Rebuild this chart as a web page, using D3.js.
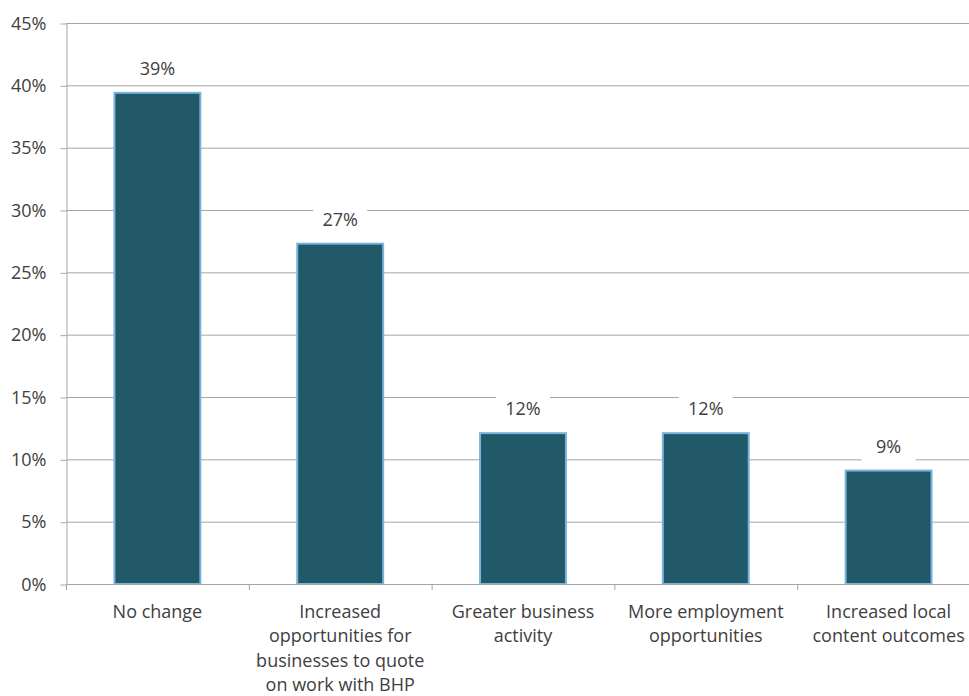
<!DOCTYPE html>
<html><head><meta charset="utf-8">
<script src="https://cdn.jsdelivr.net/npm/d3@7"></script>
<style>
body{margin:0;background:#fff;}
svg text{font-family:"Open Sans",sans-serif;fill:#404040;}
</style></head>
<body><svg id="c" width="969" height="696"></svg>
<script>
const categories = [
  ["No change"],
  ["Increased","opportunities for","businesses to quote","on work with BHP"],
  ["Greater business","activity"],
  ["More employment","opportunities"],
  ["Increased local","content outcomes"]
];
const values = [39.4, 27.3, 12.1, 12.1, 9.1];
const valueLabels = ["39%","27%","12%","12%","9%"];
const yTicks = [0,5,10,15,20,25,30,35,40,45];

const FS = 18;
const svg = d3.select("#c");
const x0 = 66, x1 = 980, yBottom = 584, yTop = 23;
const x = d3.scaleBand().domain(d3.range(categories.length)).range([x0, x1]).paddingInner(0.53).paddingOuter(0.265);
const y = d3.scaleLinear().domain([0,45]).range([yBottom, yTop]);

// gridlines
svg.append("g").selectAll("line").data(yTicks.filter(d=>d>0)).join("line")
  .attr("x1", x0).attr("x2", 969).attr("y1", d=>y(d)+0.5).attr("y2", d=>y(d)+0.5)
  .attr("stroke", "#a6a6a6").attr("stroke-width", 1);

// y axis
const ya = svg.append("g").attr("transform", `translate(${x0+0.5},0)`)
  .call(d3.axisLeft(y).tickValues(yTicks).tickFormat(d=>d+"%").tickSize(6).tickSizeOuter(0));
ya.select(".domain").attr("stroke","#a6a6a6");
ya.selectAll(".tick line").attr("stroke","#a6a6a6").attr("transform","translate(0,0.5)");
ya.selectAll(".tick text").attr("font-size", FS).attr("font-family",'"Open Sans",sans-serif').attr("fill","#404040").attr("x", -20).attr("dy","0.35em");

// bars
svg.append("g").selectAll("rect").data(values).join("rect")
  .attr("x", (d,i)=>x(i)).attr("width", x.bandwidth())
  .attr("y", d=>y(d)).attr("height", d=>yBottom - y(d))
  .attr("fill", "#215968").attr("stroke", "#79b4de").attr("stroke-width", 2);

// x axis baseline and ticks
svg.append("line").attr("x1", x0).attr("x2", 969).attr("y1", yBottom+0.5).attr("y2", yBottom+0.5)
  .attr("stroke","#a6a6a6");
const step = x.step();
svg.append("g").selectAll("line").data(d3.range(categories.length+1)).join("line")
  .attr("x1", i=>x0 + i*step + 0.5).attr("x2", i=>x0 + i*step + 0.5)
  .attr("y1", yBottom).attr("y2", yBottom+6).attr("stroke","#a6a6a6");

// category labels
const cl = svg.append("g").selectAll("text").data(categories).join("text")
  .attr("text-anchor","middle").attr("font-size",FS)
  .attr("transform",(d,i)=>`translate(${x(i)+x.bandwidth()/2},${yBottom+34})`);
cl.selectAll("tspan").data(d=>d).join("tspan")
  .attr("x",0).attr("y",(d,j)=>j*24.3).text(d=>d);

// value labels with white background
const vl = svg.append("g").selectAll("g").data(values).join("g")
  .attr("transform",(d,i)=>`translate(${x(i)+x.bandwidth()/2},${y(d)-24})`);
vl.append("rect").attr("x",-27).attr("y",-15).attr("width",54).attr("height",30).attr("fill","#fff");
vl.append("text").attr("text-anchor","middle").attr("dy","0.35em").attr("font-size",FS)
  .text((d,i)=>valueLabels[i]);
</script></body></html>
